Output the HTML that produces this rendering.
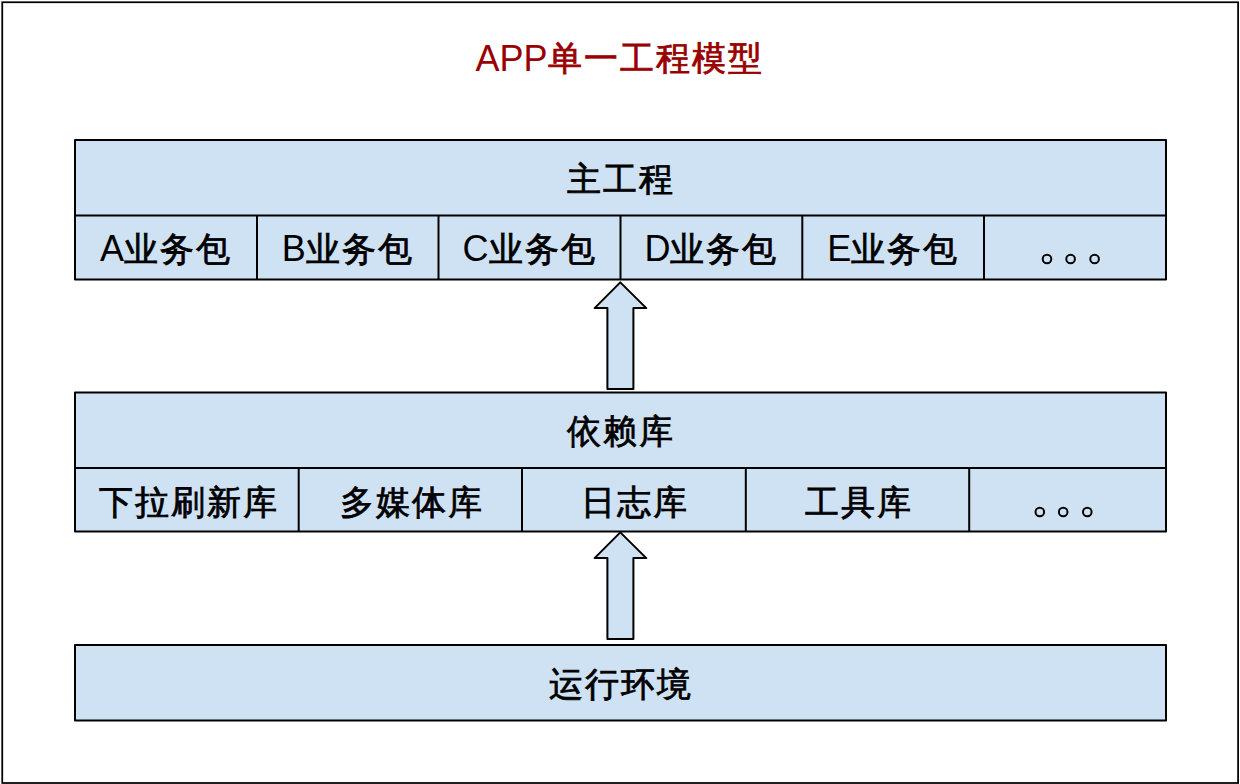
<!DOCTYPE html>
<html><head><meta charset="utf-8">
<style>
html,body{margin:0;padding:0;background:#fff;width:1240px;height:784px;overflow:hidden}
svg{display:block}
text{font-family:"Liberation Sans",sans-serif;font-size:36px;fill:#000}
.c{font-size:34px;letter-spacing:2px;stroke:#000;stroke-width:.8px}
</style></head><body>
<svg width="1240" height="784" viewBox="0 0 1240 784" xmlns="http://www.w3.org/2000/svg">
<rect x="2.25" y="2.25" width="1235.85" height="780.75" fill="#fff" stroke="#000" stroke-width="1.75"/>
<text x="619.5" y="70.7" text-anchor="middle" style="fill:#990000">APP<tspan class="c" dy="-1" style="stroke:#990000">单一工程模型</tspan></text>
<g fill="#cfe2f3" stroke="#000" stroke-width="2" stroke-linejoin="round">
<rect x="75" y="140" width="1091" height="139.5"/>
<rect x="75" y="392.5" width="1091" height="139"/>
<rect x="75" y="645" width="1091" height="75.5"/>
</g>
<g stroke="#000" stroke-width="2" fill="none">
<path d="M75 215.5H1166M257 215.5V279.5M438.5 215.5V279.5M620.5 215.5V279.5M802.3 215.5V279.5M984 215.5V279.5"/>
<path d="M75 468H1166M298.7 468V531.5M522 468V531.5M745.8 468V531.5M969.2 468V531.5"/>
</g>
<g fill="#cfe2f3" stroke="#000" stroke-width="2" stroke-linejoin="round">
<path d="M620.3 282.4L646.3 308.1H633.4V389H607.4V308.1H594.6Z"/>
<path d="M620.3 532.4L646.3 558.1H633.4V639H607.4V558.1H594.6Z"/>
</g>
<g text-anchor="middle">
<text x="620.5" y="191"><tspan class="c">主工程</tspan></text>
<text x="166" y="261">A<tspan class="c">业务包</tspan></text>
<text x="347.75" y="261">B<tspan class="c">业务包</tspan></text>
<text x="529.5" y="261">C<tspan class="c">业务包</tspan></text>
<text x="711.4" y="261">D<tspan class="c">业务包</tspan></text>
<text x="893.15" y="261">E<tspan class="c">业务包</tspan></text>
<text x="621" y="442.7"><tspan class="c">依赖库</tspan></text>
<text x="188.5" y="514"><tspan class="c">下拉刷新库</tspan></text>
<text x="412" y="514"><tspan class="c">多媒体库</tspan></text>
<text x="635.2" y="514"><tspan class="c">日志库</tspan></text>
<text x="859.3" y="514"><tspan class="c">工具库</tspan></text>
<text x="621" y="695.7"><tspan class="c">运行环境</tspan></text>
</g>
<g fill="none" stroke="#000" stroke-width="2">
<circle cx="1047" cy="259" r="4.3"/><circle cx="1070.6" cy="259" r="4.3"/><circle cx="1094.6" cy="259" r="4.3"/>
<circle cx="1039.8" cy="512" r="4.3"/><circle cx="1063.2" cy="512" r="4.3"/><circle cx="1087.3" cy="512" r="4.3"/>
</g>
</svg>
</body></html>
